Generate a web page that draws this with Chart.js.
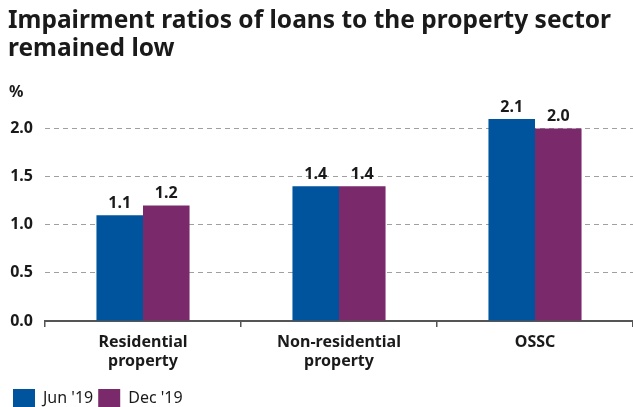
<!DOCTYPE html>
<html>
<head>
<meta charset="utf-8">
<script src="https://cdn.jsdelivr.net/npm/chart.js@4.4.1/dist/chart.umd.min.js"></script>
<style>
  html, body { margin: 0; padding: 0; background: #fff; }
  #wrap { width: 633px; height: 407px; }
</style>
</head>
<body>
<div id="wrap"><canvas id="chart"></canvas></div>
<script>
const categories = [['Residential', 'property'], ['Non-residential', 'property'], 'OSSC'];
const jun19      = [1.1, 1.4, 2.1];
const dec19      = [1.2, 1.4, 2.0];
const yTicks     = [0, 0.5, 1.0, 1.5, 2.0];

const FONT = '"Noto Sans", "DejaVu Sans", sans-serif';
const INK  = '#1a1a1a';

// value labels above each bar
const barLabels = {
  id: 'barLabels',
  afterDatasetsDraw(chart) {
    const c = chart.ctx;
    c.save();
    c.font = 'bold 16px ' + FONT;
    c.fillStyle = INK;
    c.textAlign = 'center';
    c.textBaseline = 'bottom';
    chart.data.datasets.forEach((ds, i) => {
      chart.getDatasetMeta(i).data.forEach((bar, j) => {
        c.fillText(ds.data[j].toFixed(1), bar.x, bar.y - 4);
      });
    });
    c.restore();
  }
};

// "%" unit above the y axis
const unitLabel = {
  id: 'unitLabel',
  afterDraw(chart) {
    const c = chart.ctx;
    c.save();
    c.font = 'bold 16px ' + FONT;
    c.fillStyle = INK;
    c.textAlign = 'left';
    c.textBaseline = 'middle';
    c.fillText('%', 9, 92);
    c.restore();
  }
};

new Chart(document.getElementById('chart'), {
  type: 'bar',
  data: {
    labels: categories,
    datasets: [
      { label: "Jun '19", data: jun19, backgroundColor: '#00549e', categoryPercentage: 0.475, barPercentage: 1 },
      { label: "Dec '19", data: dec19, backgroundColor: '#7a2a6b', categoryPercentage: 0.475, barPercentage: 1 }
    ]
  },
  options: {
    responsive: true,
    maintainAspectRatio: false,
    animation: false,
    layout: { padding: { left: 8, right: 0, top: 0, bottom: -10 } },
    plugins: {
      title: {
        display: true,
        align: 'start',
        text: ['Impairment ratios of loans to the property sector', 'remained low'],
        color: INK,
        font: { family: FONT, size: 24.5, weight: 'bold', lineHeight: 1.15 },
        padding: { top: 7, bottom: 46 }
      },
      legend: {
        position: 'bottom',
        align: 'start',
        labels: {
          color: INK,
          font: { family: FONT, size: 16 },
          boxWidth: 22,
          boxHeight: 18,
          padding: 5
        }
      },
      tooltip: { enabled: false }
    },
    scales: {
      x: {
        offset: true,
        afterFit: axis => { axis.height = 63; },
        grid: { display: true, drawOnChartArea: false, drawTicks: true, tickLength: 6, color: '#555', lineWidth: 1.5 },
        border: { display: true, color: '#555', width: 2 },
        ticks: { color: INK, font: { family: FONT, size: 16, weight: 'bold', lineHeight: 1.2 }, padding: 6 }
      },
      y: {
        min: 0,
        max: 2.2,
        afterBuildTicks: axis => { axis.ticks = yTicks.map(v => ({ value: v })); },
        afterFit: axis => { axis.width = 37; },
        border: { display: false, dash: [5, 4] },
        grid: {
          drawTicks: false,
          color: ctx => ctx.tick && ctx.tick.value === 0 ? 'rgba(0,0,0,0)' : '#a0a0a0',
          lineWidth: 1
        },
        ticks: {
          color: INK,
          padding: 12,
          font: { family: FONT, size: 16, weight: 'bold' },
          callback: v => v.toFixed(1)
        }
      }
    }
  },
  plugins: [barLabels, unitLabel]
});
</script>
</body>
</html>
